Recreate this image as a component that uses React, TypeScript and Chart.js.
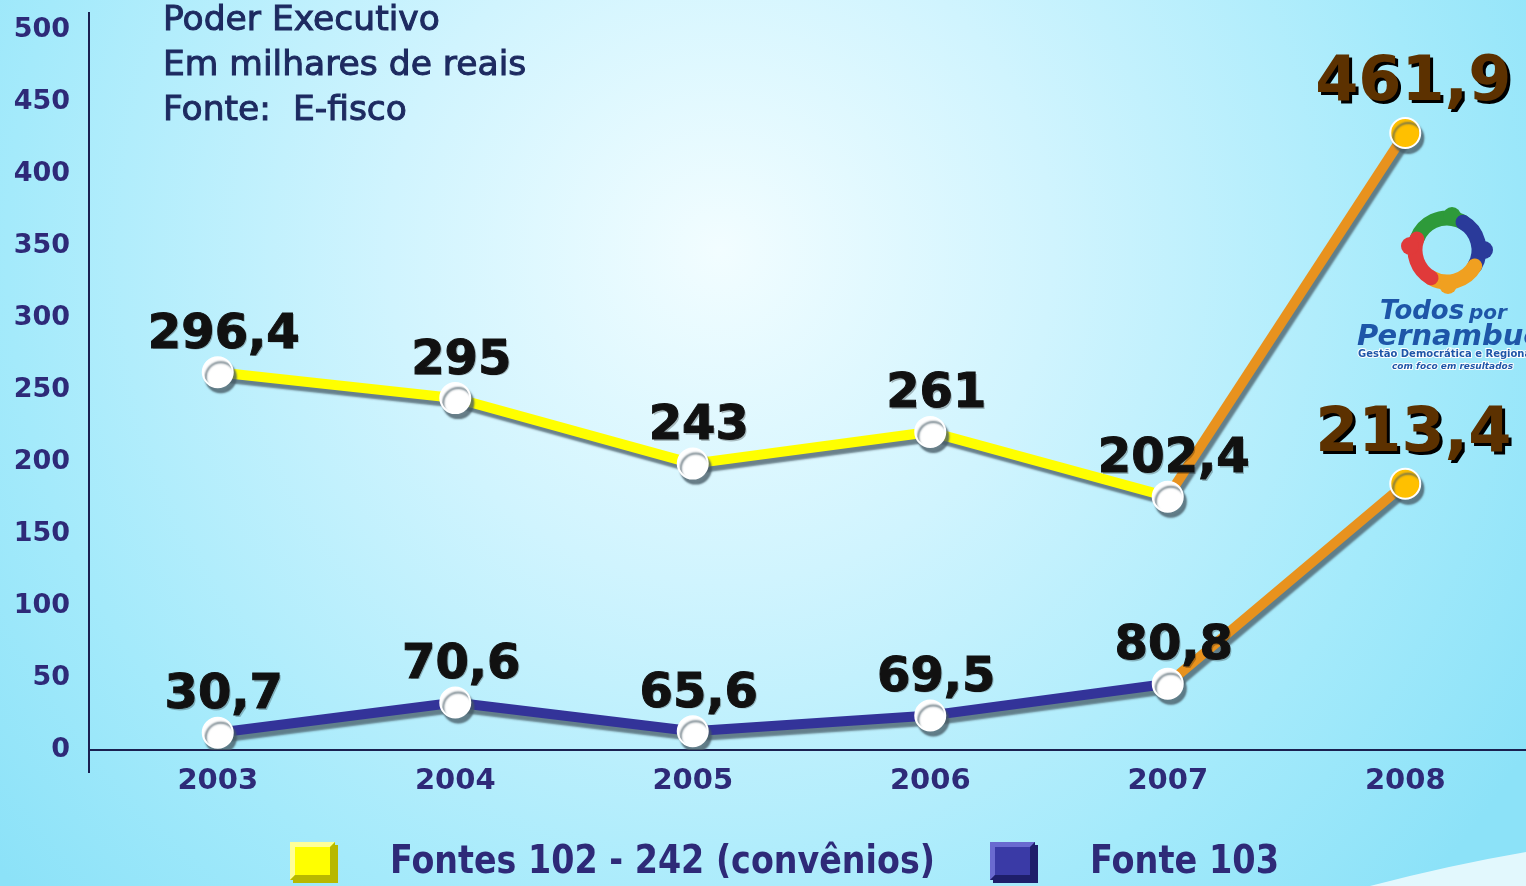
import React, { useEffect, useRef } from "react";
import { Chart, registerables } from "chart.js";

Chart.register(...registerables);

const categories = ["2003", "2004", "2005", "2006", "2007", "2008"];
// plotted positions (in axis units)
const fontes102Values = [262.5, 244.5, 199, 221, 176, 428.7];
const fonte103Values = [12, 33, 13, 24, 46, 185];
// printed value labels
const fontes102Labels = ["296,4", "295", "243", "261", "202,4", "461,9"];
const fonte103Labels = ["30,7", "70,6", "65,6", "69,5", "80,8", "213,4"];
const yTickValues = [0, 50, 100, 150, 200, 250, 300, 350, 400, 450, 500];
const titleLines = ["Poder Executivo", "Em milhares de reais", "Fonte:  E-fisco"];
const legendLabels = ["Fontes 102 - 242 (convênios)", "Fonte 103"];

const NAVY = "#2e2a78";
const ORANGE = "#e8921e";

const backgroundPlugin = {
  id: "bg",
  beforeDraw(chart: any) {
    const { ctx, width, height } = chart;
    ctx.save();
    const g = ctx.createRadialGradient(720, 250, 0, 720, 250, 950);
    g.addColorStop(0, "#f2fdff");
    g.addColorStop(0.35, "#d0f4fe");
    g.addColorStop(0.75, "#a4eafb");
    g.addColorStop(1, "#8ce2f8");
    ctx.fillStyle = g;
    ctx.fillRect(0, 0, width, height);
    ctx.beginPath();
    ctx.moveTo(1370, 886);
    ctx.quadraticCurveTo(1450, 865, 1526, 852);
    ctx.lineTo(1526, 886);
    ctx.closePath();
    ctx.fillStyle = "rgba(255,255,255,0.75)";
    ctx.fill();
    ctx.restore();
  },
};

const axesPlugin = {
  id: "axesLines",
  beforeDatasetsDraw(chart: any) {
    const { ctx } = chart;
    const y = chart.scales.y;
    const y0 = y.getPixelForValue(0);
    ctx.save();
    ctx.strokeStyle = "#1a2050";
    ctx.lineWidth = 2;
    ctx.beginPath();
    ctx.moveTo(89, 12);
    ctx.lineTo(89, y0 + 23);
    ctx.moveTo(89, y0);
    ctx.lineTo(chart.width, y0);
    ctx.stroke();
    ctx.fillStyle = NAVY;
    ctx.font = "bold 27px 'DejaVu Sans'";
    ctx.textAlign = "right";
    ctx.textBaseline = "middle";
    yTickValues.forEach((v) => ctx.fillText(String(v), 70, y.getPixelForValue(v)));
    ctx.restore();
  },
};

const shadowPlugin = {
  id: "lineShadow",
  beforeDatasetDraw(chart: any) {
    const ctx = chart.ctx;
    ctx.save();
    ctx.shadowColor = "rgba(70,90,100,0.75)";
    ctx.shadowOffsetX = 3;
    ctx.shadowOffsetY = 5;
    ctx.shadowBlur = 2;
  },
  afterDatasetDraw(chart: any) {
    chart.ctx.restore();
  },
};

const labelsPlugin = {
  id: "valueLabels",
  afterDatasetsDraw(chart: any) {
    const { ctx } = chart;
    const sets = [fontes102Labels, fonte103Labels];
    ctx.save();
    ctx.textAlign = "center";
    ctx.textBaseline = "middle";
    sets.forEach((labels, di) => {
      const meta = chart.getDatasetMeta(di);
      meta.data.forEach((pt: any, i: number) => {
        const last = i === labels.length - 1;
        if (last) {
          ctx.font = "bold 62px 'DejaVu Sans'";
          const x = pt.x + 8;
          const yy = pt.y - 49;
          ctx.fillStyle = "#000000";
          ctx.fillText(labels[i], x + 3, yy + 3);
          ctx.fillStyle = "#5c3100";
          ctx.fillText(labels[i], x, yy);
        } else {
          ctx.font = "bold 48px 'DejaVu Sans'";
          const x = pt.x + 6;
          const yy = pt.y - 37;
          ctx.fillStyle = "rgba(0,0,0,0.25)";
          ctx.fillText(labels[i], x + 1.5, yy + 1.5);
          ctx.fillStyle = "#111111";
          ctx.strokeStyle = "#111111";
          ctx.lineWidth = 1;
          ctx.strokeText(labels[i], x, yy);
          ctx.fillText(labels[i], x, yy);
        }
      });
    });
    ctx.restore();
  },
};

function drawSquare(ctx: any, x: number, y: number, w: number, h: number, fill: string, light: string, dark: string) {
  ctx.fillStyle = dark;
  ctx.fillRect(x + 3, y + 3, w, h);
  ctx.fillStyle = fill;
  ctx.fillRect(x, y, w, h);
  ctx.fillStyle = light;
  ctx.beginPath();
  ctx.moveTo(x, y);
  ctx.lineTo(x + w, y);
  ctx.lineTo(x + w - 5, y + 5);
  ctx.lineTo(x + 5, y + 5);
  ctx.lineTo(x + 5, y + h - 5);
  ctx.lineTo(x, y + h);
  ctx.closePath();
  ctx.fill();
  ctx.fillStyle = dark;
  ctx.beginPath();
  ctx.moveTo(x + w, y);
  ctx.lineTo(x + w, y + h);
  ctx.lineTo(x, y + h);
  ctx.lineTo(x + 5, y + h - 5);
  ctx.lineTo(x + w - 5, y + h - 5);
  ctx.lineTo(x + w - 5, y + 5);
  ctx.closePath();
  ctx.fill();
}

function drawStretchedText(ctx: any, text: string, x: number, y: number, width: number, font: string) {
  ctx.save();
  ctx.font = font;
  const m = ctx.measureText(text).width;
  ctx.translate(x, y);
  ctx.scale(width / m, 1.05);
  ctx.fillText(text, 0, 0);
  ctx.restore();
}

const decorPlugin = {
  id: "decor",
  afterDraw(chart: any) {
    const { ctx } = chart;
    ctx.save();
    ctx.fillStyle = "#1d2a60";
    ctx.strokeStyle = "#1d2a60";
    ctx.lineWidth = 1;
    ctx.font = "34.5px 'DejaVu Sans'";
    ctx.textAlign = "left";
    ctx.textBaseline = "middle";
    titleLines.forEach((t, i) => {
      ctx.strokeText(t, 163, 21 + i * 45);
      ctx.fillText(t, 163, 21 + i * 45);
    });

    drawSquare(ctx, 290, 842, 45, 38, "#ffff00", "#ffff99", "#b8b800");
    drawSquare(ctx, 990, 842, 45, 38, "#3a3aa6", "#6a6ad0", "#1e1e6a");
    ctx.fillStyle = NAVY;
    ctx.textBaseline = "middle";
    drawStretchedText(ctx, legendLabels[0], 390, 863, 545, "bold 38px 'DejaVu Sans'");
    drawStretchedText(ctx, legendLabels[1], 1090, 863, 189, "bold 38px 'DejaVu Sans'");

    const cx = 1447, cy = 250, r = 32;
    const parts = [
      { c: "#2e9a3a", a0: -160, a1: -60, hx: 1452, hy: 216 },
      { c: "#2a3a9a", a0: -60, a1: 30, hx: 1484, hy: 250 },
      { c: "#f0a020", a0: 30, a1: 120, hx: 1448, hy: 285 },
      { c: "#e03a3a", a0: 120, a1: 200, hx: 1410, hy: 246 },
    ];
    ctx.lineCap = "round";
    parts.forEach((p) => {
      ctx.strokeStyle = p.c;
      ctx.lineWidth = 15;
      ctx.beginPath();
      ctx.arc(cx, cy, r, (p.a0 * Math.PI) / 180, (p.a1 * Math.PI) / 180);
      ctx.stroke();
      ctx.fillStyle = p.c;
      ctx.beginPath();
      ctx.arc(p.hx, p.hy, 9, 0, Math.PI * 2);
      ctx.fill();
    });
    ctx.fillStyle = "#1e56a8";
    ctx.strokeStyle = "#ffffff";
    ctx.lineWidth = 2;
    ctx.textBaseline = "alphabetic";
    ctx.font = "italic bold 26px 'DejaVu Sans'";
    ctx.fillText("Todos", 1380, 319);
    ctx.font = "italic bold 20px 'DejaVu Sans'";
    ctx.fillText("por", 1469, 319);
    ctx.font = "italic bold 29px 'DejaVu Sans'";
    ctx.fillText("Pernambuco", 1357, 345);
    ctx.font = "bold 10px 'DejaVu Sans'";
    ctx.strokeText("Gestão Democrática e Regionalizada", 1358, 357);
    ctx.fillText("Gestão Democrática e Regionalizada", 1358, 357);
    ctx.font = "italic bold 9px 'DejaVu Sans'";
    ctx.strokeText("com foco em resultados", 1392, 369);
    ctx.fillText("com foco em resultados", 1392, 369);
    ctx.restore();
  },
};

export default function App() {
  const ref = useRef<HTMLCanvasElement | null>(null);
  useEffect(() => {
    document.body.style.margin = "0";
    const canvas = ref.current;
    if (!canvas) return;
    const pointBg = (n: number) => Array.from({ length: n }, (_, i) => (i === n - 1 ? "#ffc000" : "#ffffff"));
    const segColor = (base: string) => (c: any) => (c.p1DataIndex === categories.length - 1 ? ORANGE : base);
    const chart = new Chart(canvas, {
      type: "line",
      data: {
        labels: categories,
        datasets: [
          {
            label: legendLabels[0],
            data: fontes102Values,
            borderColor: "#ffff00",
            borderWidth: 10,
            segment: { borderColor: segColor("#ffff00") },
            pointRadius: 15,
            pointBackgroundColor: pointBg(fontes102Values.length),
            pointBorderColor: "#ffffff",
            pointBorderWidth: 2,
            tension: 0,
          },
          {
            label: legendLabels[1],
            data: fonte103Values,
            borderColor: "#333399",
            borderWidth: 10,
            segment: { borderColor: segColor("#333399") },
            pointRadius: 15,
            pointBackgroundColor: pointBg(fonte103Values.length),
            pointBorderColor: "#ffffff",
            pointBorderWidth: 2,
            tension: 0,
          },
        ],
      },
      options: {
        responsive: false,
        animation: false,
        layout: { autoPadding: false, padding: { top: 16, right: 2, left: 0, bottom: 0 } },
        plugins: { legend: { display: false }, tooltip: { enabled: false }, title: { display: false } },
        scales: {
          x: {
            type: "category",
            offset: true,
            grid: { display: false, drawTicks: false },
            border: { display: false },
            ticks: { color: NAVY, font: { family: "'DejaVu Sans'", size: 29, weight: "bold" }, padding: 14 },
            afterFit: (s: any) => {
              s.height = 136;
            },
          },
          y: {
            min: 0,
            max: 510,
            grid: { display: false, drawTicks: false },
            border: { display: false },
            ticks: { display: false },
            afterFit: (s: any) => {
              s.width = 99;
            },
          },
        },
      },
      plugins: [backgroundPlugin, axesPlugin, shadowPlugin, labelsPlugin, decorPlugin],
    } as any);
    return () => chart.destroy();
  }, []);
  return (
    <div style={{ width: 1526, height: 886 }}>
      <canvas ref={ref} width={1526} height={886} style={{ display: "block" }} />
    </div>
  );
}
